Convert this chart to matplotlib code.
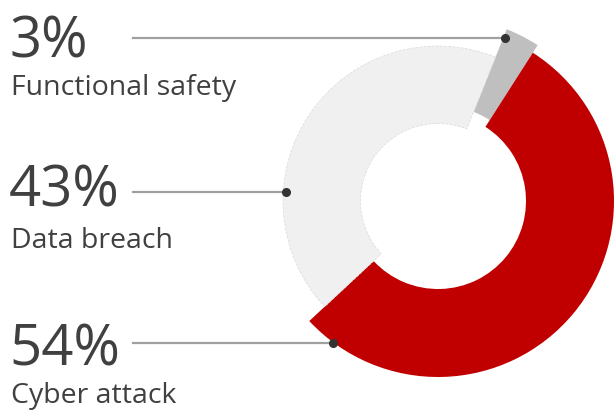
import matplotlib.pyplot as plt

# data
labels = ['Functional safety', 'Cyber attack', 'Data breach']
values = [3, 54, 43]
colors = ['#bfbfbf', '#c00000', '#f0f0f0']
outer = [185, 176, 155]      # each slice has its own ring size
ring = [89, 88, 77.5]

# left hand labels: percent text, name, leader line end
txt_pct = ['3%', '43%', '54%']
txt_name = ['Functional safety', 'Data breach', 'Cyber attack']
pct_y = [57, 207, 365]
name_y = [95, 248, 403]
line_y = [38, 192, 343]
line_end = [505, 286, 333]

H = 411
fig = plt.figure(figsize=(6.14, 4.11), dpi=100)
ax = fig.add_axes([0, 0, 1, 1])

cx, cy = 438, H - 201
wedges, _ = ax.pie(values, colors=colors, startangle=68.2, counterclock=False,
                   center=(cx, cy), radius=1, frame=True)
for w, r, wd in zip(wedges, outer, ring):
    w.set_radius(r)
    w.set_width(wd)
wedges[2].set_edgecolor('#dadada')
wedges[2].set_linewidth(0.5)
wedges[2].set_linestyle((0, (4, 2)))

tc = '#404040'
for p, n, py, ny, ly, le in zip(txt_pct, txt_name, pct_y, name_y, line_y, line_end):
    ax.text(9, H - py, p, fontsize=40.5, color=tc, family='Open Sans', va='baseline')
    ax.text(11, H - ny, n, fontsize=20.5, color=tc, family='Open Sans', va='baseline')
    ax.plot([133, le], [H - ly, H - ly], color='#a0a0a0', lw=1.6, zorder=5)
    ax.plot([le], [H - ly], 'o', color='#333333', ms=5.5, zorder=6)

ax.set_xlim(0, 614)
ax.set_ylim(0, H)
ax.set_aspect('equal')
ax.axis('off')
fig.savefig('out.png', dpi=100)
